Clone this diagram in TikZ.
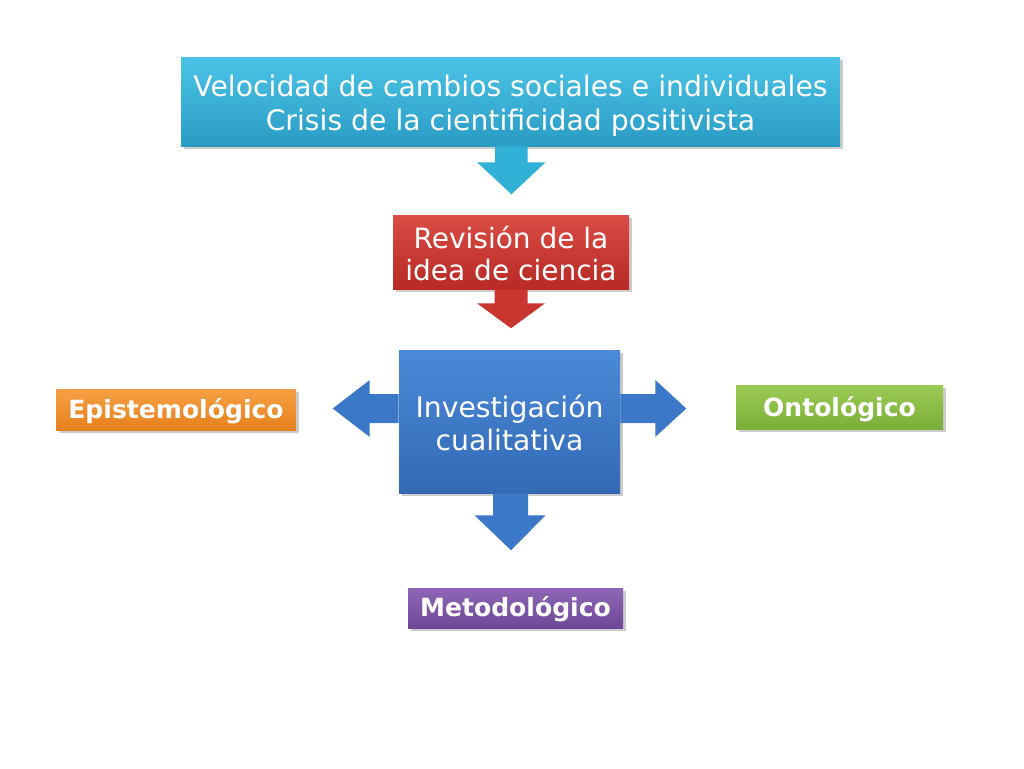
\documentclass[tikz,border=0pt]{standalone}
\usepackage{fontspec}
\setmainfont{DejaVu Sans}
\usetikzlibrary{calc}
\definecolor{cyanbox}{HTML}{31B0D8}
\definecolor{cyantop}{HTML}{4CC3E6}
\definecolor{cyanbot}{HTML}{2A9CC4}
\definecolor{redbox}{HTML}{C8362F}
\definecolor{redtop}{HTML}{DA4D45}
\definecolor{redbot}{HTML}{B72A25}
\definecolor{bluebox}{HTML}{3B78C8}
\definecolor{bluetop}{HTML}{4A8AD8}
\definecolor{bluebot}{HTML}{3369B5}
\definecolor{orangetop}{HTML}{F7A045}
\definecolor{orangebot}{HTML}{E6801C}
\definecolor{greentop}{HTML}{9CCB55}
\definecolor{greenbot}{HTML}{7AAE38}
\definecolor{purpletop}{HTML}{8E66B6}
\definecolor{purplebot}{HTML}{6E4896}
\tikzset{
  box/.style={rectangle, inner sep=0pt},
  txt/.style={text=white, align=center, inner sep=0pt},
  big/.style={txt, font=\fontsize{21.2pt}{25.5pt}\selectfont},
  lab/.style={txt, font=\fontsize{18.8pt}{22pt}\selectfont\bfseries},
  shade/.style 2 args={top color=#1, bottom color=#2},
}
\begin{document}
\begin{tikzpicture}[x=0.75pt,y=-0.75pt]
\useasboundingbox (0,0) rectangle (1024,768);
\fill[white] (0,0) rectangle (1024,768);
% shadows
\fill[black!20] (184,60) rectangle (843,149);
\fill[black!20] (396,218) rectangle (632,292);
\fill[black!20] (402,353) rectangle (623,496);
\fill[black!20] (59,392) rectangle (299,433);
\fill[black!20] (739,388) rectangle (946,432);
\fill[black!20] (411,591) rectangle (626,631);
% boxes
\node[box, shade={cyantop}{cyanbot}, minimum width={659*0.75pt}, minimum height={89*0.75pt},
  label={[big, yshift=-3pt]center:{Velocidad de cambios sociales e individuales\\Crisis de la cientificidad positivista}}]
  (top) at (510.5,101.5) {};
\node[box, shade={redtop}{redbot}, minimum width={236*0.75pt}, minimum height={74*0.75pt},
  label={[big, font=\fontsize{21pt}{24pt}\selectfont, yshift=-0.8pt]center:{Revisión de la\\idea de ciencia}}]
  (rev) at (511,252) {};
\node[box, shade={bluetop}{bluebot}, minimum width={221*0.75pt}, minimum height={143*0.75pt},
  label={[big, font=\fontsize{21.2pt}{24.75pt}\selectfont, yshift=-1.2pt]center:{Investigación\\cualitativa}}]
  (inv) at (509.5,421.5) {};
\node[box, shade={orangetop}{orangebot}, minimum width={240*0.75pt}, minimum height={41*0.75pt},
  label={[lab, yshift=-1pt]center:Epistemológico}] (epi) at (176,409.5) {};
\node[box, shade={greentop}{greenbot}, minimum width={207*0.75pt}, minimum height={44*0.75pt},
  label={[lab, yshift=-2pt]center:Ontológico}] (ont) at (839.5,407) {};
\node[box, shade={purpletop}{purplebot}, minimum width={215*0.75pt}, minimum height={40*0.75pt},
  label={[lab, yshift=-1pt]center:Metodológico}] (met) at (515.5,608) {};
% block arrows
\fill[cyanbox] ($(top.south)+(-15.5,0)$) -- ++(0,16) -- ++(-18,0) -- ($(top.south)+(1,48)$)
  -- ($(top.south)+(35,16)$) -- ++(-18,0) -- ++(0,-16) -- cycle;
\fill[redbox] ($(rev.south)+(-16.5,0)$) -- ++(0,14) -- ++(-17.5,0) -- ($(rev.south)+(0,39)$)
  -- ($(rev.south)+(34,14)$) -- ++(-17.5,0) -- ++(0,-14) -- cycle;
\fill[bluebox] ($(inv.west)+(0,-27.5)$) -- ++(-29,0) -- ++(0,-14) -- ($(inv.west)+(-66,-13)$)
  -- ($(inv.west)+(-29,15.5)$) -- ++(0,-14) -- ++(29,0) -- cycle;
\fill[bluebox] ($(inv.east)+(0,-27.5)$) -- ++(35,0) -- ++(0,-14) -- ($(inv.east)+(66,-13)$)
  -- ($(inv.east)+(35,15.5)$) -- ++(0,-14) -- ++(-35,0) -- cycle;
\fill[bluebox] ($(inv.south)+(-16.5,0)$) -- ++(0,22) -- ++(-18.5,0) -- ($(inv.south)+(1.5,57)$)
  -- ($(inv.south)+(36,22)$) -- ++(-17.5,0) -- ++(0,-22) -- cycle;
\end{tikzpicture}
\end{document}
